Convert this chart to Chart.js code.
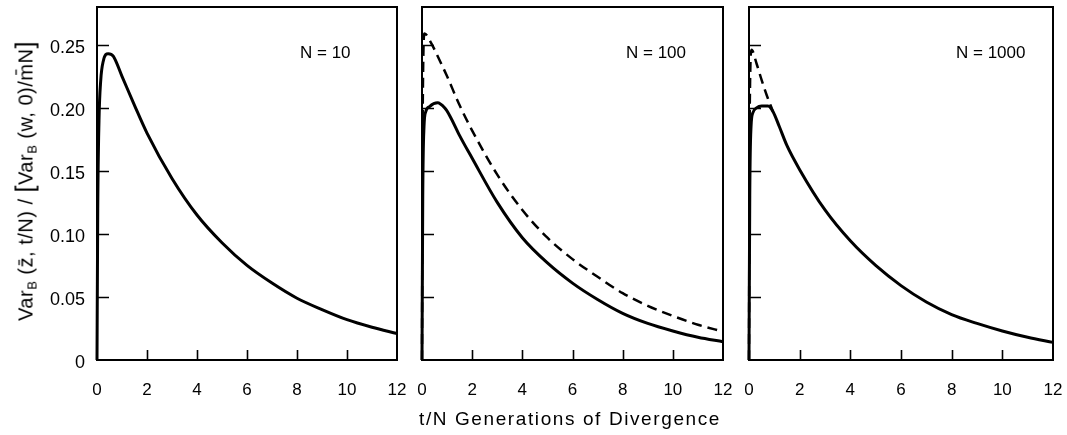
<!DOCTYPE html>
<html><head><meta charset="utf-8">
<script src="https://cdn.jsdelivr.net/npm/chart.js@4.4.0/dist/chart.umd.min.js"></script>
<style>
html,body{margin:0;padding:0;background:#fff;}
body{width:1067px;height:435px;position:relative;overflow:hidden;font-family:"Liberation Sans",Arial,sans-serif;color:#000;}
canvas{position:absolute;top:0;}
#ytitle{position:absolute;left:25px;top:181px;transform:translate(-50%,-50%) rotate(-90deg);white-space:nowrap;font-size:20px;letter-spacing:0.5px;}
#ytitle sub{font-size:13px;vertical-align:-4px;}
#ytitle .br{font-size:25px;vertical-align:-1px;}
#xtitle{position:absolute;left:570px;top:419px;transform:translate(-50%,-50%);white-space:nowrap;font-size:19px;letter-spacing:1.6px;}
.plab{position:absolute;top:53px;transform:translateY(-50%);white-space:nowrap;font-size:17px;}
</style></head>
<body>
<canvas id="c1"></canvas>
<canvas id="c2"></canvas>
<canvas id="c3"></canvas>
<div id="ytitle">Var<sub>B</sub> (z&#772;, t/N) / <span class="br">[</span>Var<sub>B</sub> (w, 0)/m&#772;N<span class="br">]</span></div>
<div id="xtitle">t/N Generations of Divergence</div>
<div class="plab" style="left:300px">N = 10</div>
<div class="plab" style="left:626px">N = 100</div>
<div class="plab" style="left:956px">N = 1000</div>
<script>
// ---- data ----
const xTicks = [0, 2, 4, 6, 8, 10, 12];
const yTicks = [0, 0.05, 0.10, 0.15, 0.20, 0.25];
const panelLabels = ["N = 10", "N = 100", "N = 1000"];

// N = 10 : solid curve
const t10 = [0, 0.03, 0.08, 0.15, 0.25, 0.45, 0.65, 1.0, 1.5, 2, 3, 4, 5, 6, 7, 8, 9, 10, 11, 12];
const v10 = [0, 0.12, 0.19, 0.222, 0.237, 0.243, 0.241, 0.225, 0.202, 0.180, 0.144, 0.115, 0.093, 0.075, 0.061, 0.049, 0.040, 0.032, 0.026, 0.021];

// N = 100 : solid and dashed curves
const t100s = [0, 0.03, 0.08, 0.15, 0.3, 0.62, 0.9, 1.1, 1.5, 2, 3, 4, 5, 6, 7, 8, 9, 10, 11, 12];
const v100s = [0, 0.13, 0.185, 0.197, 0.201, 0.204, 0.200, 0.194, 0.178, 0.160, 0.125, 0.097, 0.077, 0.061, 0.048, 0.037, 0.029, 0.023, 0.018, 0.0145];
const t100d = [0, 0.03, 0.1, 0.35, 0.6, 1, 1.5, 2, 3, 4, 5, 6, 7, 8, 9, 10, 11, 12];
const v100d = [0, 0.2, 0.259, 0.252, 0.242, 0.225, 0.202, 0.182, 0.147, 0.119, 0.097, 0.080, 0.066, 0.053, 0.043, 0.035, 0.028, 0.0225];

// N = 1000 : solid and dashed curves
const t1000s = [0, 0.03, 0.08, 0.15, 0.3, 0.5, 0.75, 0.95, 1.2, 1.5, 2, 3, 4, 5, 6, 7, 8, 9, 10, 11, 12];
const v1000s = [0, 0.13, 0.185, 0.196, 0.200, 0.2015, 0.2015, 0.197, 0.185, 0.170, 0.151, 0.119, 0.0945, 0.075, 0.059, 0.046, 0.036, 0.029, 0.023, 0.018, 0.014];
const t1000d = [0, 0.03, 0.1, 0.3, 0.5, 0.7, 0.95];
const v1000d = [0, 0.2, 0.246, 0.235, 0.222, 0.210, 0.197];

// ---- helpers ----
const FONT = '"Liberation Sans", Arial, sans-serif';
const pts = (t, v) => t.map((x, i) => ({x, y: v[i]}));

const framePlugin = {
  id: 'frame',
  beforeDatasetsDraw(chart) {
    const {ctx, chartArea: a, scales: {x, y}} = chart;
    ctx.save();
    ctx.strokeStyle = '#000';
    ctx.lineWidth = 2;
    ctx.strokeRect(a.left, a.top, a.right - a.left, a.bottom - a.top);
    ctx.lineWidth = 1.6;
    ctx.beginPath();
    yTicks.filter(v => v > 0).forEach(v => {
      const p = Math.round(y.getPixelForValue(v)) + 0.5;
      ctx.moveTo(a.left, p); ctx.lineTo(a.left + 12, p);
    });
    xTicks.filter(v => v > 0 && v < 12).forEach(v => {
      const p = Math.round(x.getPixelForValue(v)) + 0.5;
      ctx.moveTo(p, a.bottom); ctx.lineTo(p, a.bottom - 10);
    });
    ctx.stroke();
    ctx.restore();
  }
};

function makePanel(id, left, right, datasets, showY) {
  const YW = 60, PADR = 20, H = 400;
  const cv = document.getElementById(id);
  const w = (right - left) + YW + PADR;
  cv.width = w; cv.height = H;
  cv.style.width = w + 'px'; cv.style.height = H + 'px';
  cv.style.left = (left - YW) + 'px';
  new Chart(cv, {
    type: 'line',
    data: { datasets },
    options: {
      responsive: false,
      animation: false,
      devicePixelRatio: 1,
      layout: { padding: { top: 7, right: PADR, left: 0, bottom: 0 } },
      plugins: { legend: { display: false }, tooltip: { enabled: false } },
      elements: { point: { radius: 0 } },
      scales: {
        x: {
          type: 'linear', min: 0, max: 12,
          afterBuildTicks: s => { s.ticks = xTicks.map(v => ({value: v})); },
          afterFit: s => { s.height = 40; s.paddingLeft = 0; s.paddingRight = 0; },
          grid: { display: false },
          border: { display: false },
          ticks: { color: '#000', font: { family: FONT, size: 17 }, padding: 12, maxRotation: 0,
                   callback: v => String(v) }
        },
        y: {
          type: 'linear', min: 0, max: 0.28,
          afterBuildTicks: s => { s.ticks = yTicks.map(v => ({value: v})); },
          afterFit: s => { s.width = YW; s.paddingTop = 0; s.paddingBottom = 0; },
          grid: { display: false },
          border: { display: false },
          ticks: { display: showY, color: '#000', font: { family: FONT, size: 18 }, padding: 4, labelOffset: 3,
                   callback: v => v === 0 ? '0' : v.toFixed(2) }
        }
      }
    },
    plugins: [framePlugin]
  });
}

const solid = (t, v) => ({ data: pts(t, v), borderColor: '#000', borderWidth: 3, cubicInterpolationMode: 'monotone', fill: false, clip: 4 });
const dashed = (t, v) => ({ data: pts(t, v), borderColor: '#000', borderWidth: 2.5, borderDash: [10, 6], cubicInterpolationMode: 'monotone', fill: false, clip: 4 });

makePanel('c1', 97, 397, [solid(t10, v10)], true);
makePanel('c2', 422, 723, [dashed(t100d, v100d), solid(t100s, v100s)], false);
makePanel('c3', 749, 1053, [dashed(t1000d, v1000d), solid(t1000s, v1000s)], false);
</script>
</body></html>
